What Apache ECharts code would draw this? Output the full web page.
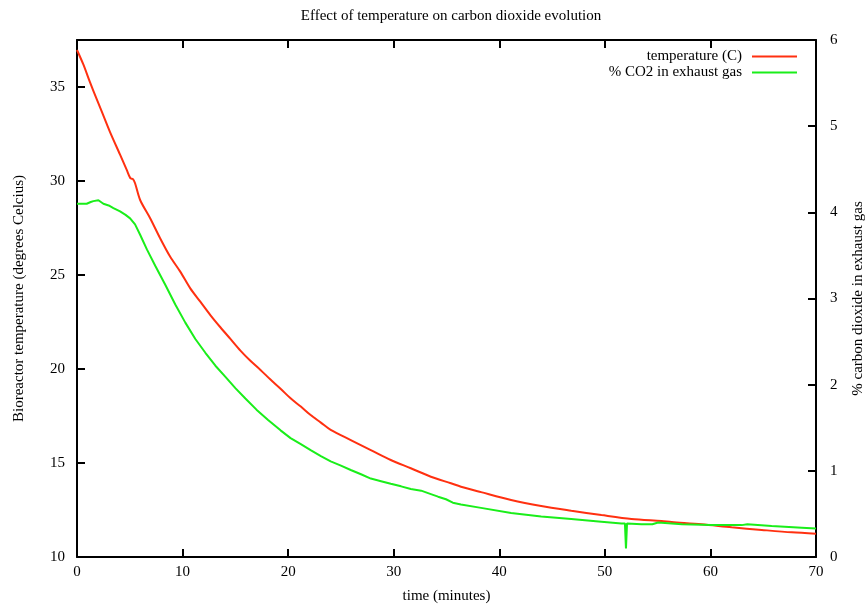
<!DOCTYPE html>
<html>
<head>
<meta charset="utf-8">
<script src="https://cdn.jsdelivr.net/npm/echarts@6/dist/echarts.min.js"></script>
<style>html,body{margin:0;padding:0;background:#fff}#c{width:868px;height:612px}</style>
</head>
<body>
<div id="c"></div>
<script>
const titleText = 'Effect of temperature on carbon dioxide evolution';
const xName = 'time (minutes)';
const yLeftName = 'Bioreactor temperature (degrees Celcius)';
const yRightName = '% carbon dioxide in exhaust gas';
const seriesNames = ['temperature (C)', '% CO2 in exhaust gas'];

const tempTime = [0, 0.6, 1.2, 1.55, 2.34, 3.13, 4.08, 4.7, 5.05, 5.3, 5.5, 5.98, 6.93, 7.88, 8.83, 9.78, 10.73, 11.68, 12.63, 13.58, 14.53, 15.48, 16.4, 17.38, 18.3, 19.28, 20.23, 21.2, 22.13, 23.1, 24.03, 25.93, 27.83, 29.72, 31.62, 33.52, 35.42, 36.37, 38.27, 41.12, 43.97, 46.82, 49.67, 52.52, 55.37, 56.32, 59.16, 62.01, 64.86, 67.71, 70];
const tempVals = [36.97, 36.2, 35.3, 34.8, 33.7, 32.6, 31.4, 30.6, 30.15, 30.1, 29.88, 28.99, 28.02, 26.95, 25.97, 25.18, 24.29, 23.58, 22.87, 22.22, 21.6, 20.98, 20.45, 19.95, 19.45, 18.95, 18.44, 18.0, 17.55, 17.15, 16.76, 16.22, 15.69, 15.16, 14.72, 14.27, 13.92, 13.74, 13.45, 13.03, 12.71, 12.46, 12.23, 12.02, 11.91, 11.86, 11.74, 11.58, 11.44, 11.31, 11.24];

const co2Time = [0, 0.92, 1.3, 1.55, 2.03, 2.5, 3.0, 3.45, 4.08, 4.6, 5.03, 5.5, 5.98, 6.62, 7.41, 8.36, 9.31, 10.26, 11.21, 12.16, 13.11, 14.06, 15.0, 15.95, 17.0, 18.1, 19.28, 20.23, 21.2, 22.13, 23.1, 24.03, 25.0, 25.93, 26.9, 27.83, 28.8, 29.72, 30.7, 31.62, 32.6, 33.52, 34.2, 34.95, 35.6, 36.37, 38.27, 41.12, 43.97, 46.82, 49.67, 51.57, 51.9, 52.0, 52.1, 53.47, 54.5, 55.05, 57.3, 60.1, 62.96, 63.5, 65.8, 68.66, 70];
const co2Vals = [4.10, 4.10, 4.12, 4.13, 4.14, 4.10, 4.08, 4.05, 4.01, 3.97, 3.93, 3.86, 3.74, 3.57, 3.38, 3.16, 2.93, 2.72, 2.53, 2.37, 2.22, 2.09, 1.96, 1.84, 1.71, 1.59, 1.47, 1.38, 1.31, 1.24, 1.17, 1.11, 1.06, 1.01, 0.96, 0.91, 0.88, 0.85, 0.82, 0.79, 0.77, 0.73, 0.70, 0.67, 0.63, 0.61, 0.57, 0.51, 0.47, 0.44, 0.41, 0.39, 0.39, 0.10, 0.39, 0.38, 0.38, 0.40, 0.38, 0.37, 0.37, 0.38, 0.36, 0.34, 0.33];

const FONT = 'Liberation Serif';
const chart = echarts.init(document.getElementById('c'), null, {renderer: 'canvas'});
const axisLineStyle = {color: '#000', width: 2};
const tickStyle = {show: true, inside: true, length: 8, lineStyle: {color: '#000', width: 2}};
const labelStyle = {color: '#000', fontFamily: FONT, fontSize: 15};
const nameStyle = {color: '#000', fontFamily: FONT, fontSize: 15};

chart.setOption({
  animation: false,
  backgroundColor: '#fff',
  title: {
    text: titleText, left: 446, top: 4, textAlign: 'center',
    textStyle: {color: '#000', fontFamily: FONT, fontSize: 15, fontWeight: 'normal'}
  },
  legend: {
    orient: 'vertical', align: 'right', right: 66, top: 44,
    icon: 'rect', itemWidth: 45, itemHeight: 2, itemGap: 1,
    textStyle: {color: '#000', fontFamily: FONT, fontSize: 15, padding: [0, 5, 0, 0]},
    data: seriesNames
  },
  grid: {left: 77, right: 52, top: 40, bottom: 55, outerBoundsMode: 'none', containLabel: false},
  xAxis: [{
    type: 'value', position: 'bottom', min: 0, max: 70, interval: 10,
    name: xName, nameLocation: 'middle', nameGap: 32, nameTextStyle: nameStyle,
    axisLine: {show: true, lineStyle: axisLineStyle}, axisTick: tickStyle,
    axisLabel: Object.assign({margin: 8}, labelStyle), splitLine: {show: false}
  }, {
    type: 'value', position: 'top', min: 0, max: 70, interval: 10,
    axisLine: {show: true, onZero: false, lineStyle: axisLineStyle}, axisTick: tickStyle,
    axisLabel: {show: false}, splitLine: {show: false}
  }],
  yAxis: [{
    type: 'value', position: 'left', min: 10, max: 37.5, interval: 5,
    name: yLeftName, nameLocation: 'middle', nameGap: 50, nameRotate: 90, nameTextStyle: nameStyle,
    axisLine: {show: true, onZero: false, lineStyle: axisLineStyle}, axisTick: tickStyle,
    axisLabel: Object.assign({margin: 12, showMaxLabel: false}, labelStyle), splitLine: {show: false}
  }, {
    type: 'value', position: 'right', min: 0, max: 6, interval: 1,
    name: yRightName, nameLocation: 'middle', nameGap: 35, nameRotate: 90, nameTextStyle: nameStyle,
    axisLine: {show: true, onZero: false, lineStyle: axisLineStyle}, axisTick: tickStyle,
    axisLabel: Object.assign({margin: 14}, labelStyle), splitLine: {show: false}
  }],
  series: [{
    name: seriesNames[0], type: 'line', xAxisIndex: 0, yAxisIndex: 0,
    symbol: 'none', showSymbol: false, smooth: 0.3,
    lineStyle: {color: '#ff3010', width: 2}, itemStyle: {color: '#ff3010'},
    data: tempTime.map((t, i) => [t, tempVals[i]])
  }, {
    name: seriesNames[1], type: 'line', xAxisIndex: 0, yAxisIndex: 1,
    symbol: 'none', showSymbol: false,
    lineStyle: {color: '#1aee1a', width: 2}, itemStyle: {color: '#1aee1a'},
    data: co2Time.map((t, i) => [t, co2Vals[i]])
  }]
});
</script>
</body>
</html>
